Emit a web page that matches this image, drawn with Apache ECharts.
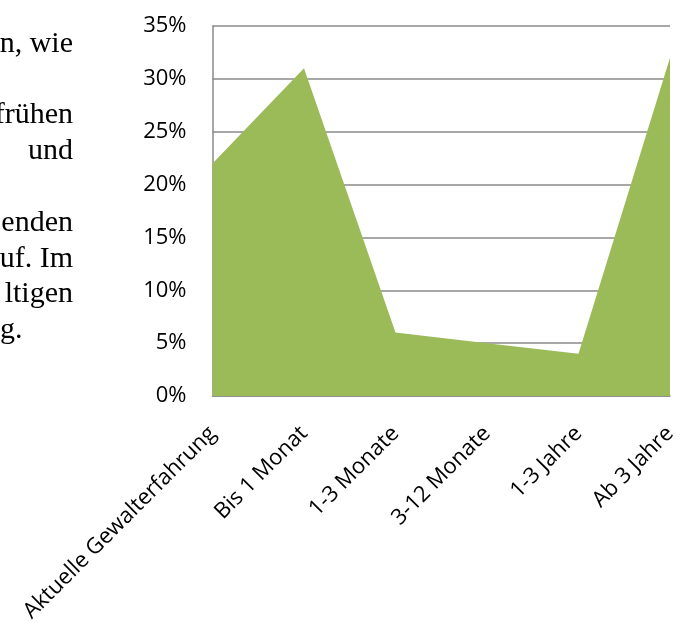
<!DOCTYPE html>
<html>
<head>
<meta charset="utf-8">
<script src="https://cdn.jsdelivr.net/npm/echarts@6/dist/echarts.min.js"></script>
<style>
  html, body { margin: 0; padding: 0; background: #fff; }
  #chart { width: 685px; height: 623px; }
</style>
</head>
<body>
<div id="chart"></div>
<script>
// Kategorien und Werte (Anteil in %)
const categories = ['Aktuelle Gewalterfahrung', 'Bis 1 Monat', '1-3 Monate', '3-12 Monate', '1-3 Jahre', 'Ab 3 Jahre'];
const values = [22, 31, 6, 5, 4, 32];
const yTicks = [0, 5, 10, 15, 20, 25, 30, 35];

// abgeschnittener Fließtext links neben dem Diagramm
const sideLines = ['n, wie', '', 'frühen', 'und', '', 'enden', 'uf. Im', 'ltigen', 'g.'];

let chartDom = document.getElementById('chart');
let myChart = echarts.init(chartDom);

let textEls = [];
sideLines.forEach((t, i) => {
  if (!t) return;
  let last = i === sideLines.length - 1;
  textEls.push({
    type: 'text',
    x: last ? 0 : 73,
    y: 44 + i * 35.8,
    style: {
      text: t,
      align: last ? 'left' : 'right',
      verticalAlign: 'middle',
      font: '30px "Liberation Serif", "Times New Roman", serif',
      fill: '#000'
    }
  });
});

let option = {
  backgroundColor: '#fff',
  animation: false,
  grid: { left: 212.5, right: 15, top: 26, bottom: 227, containLabel: false, outerBoundsMode: 'none' },
  xAxis: {
    type: 'category',
    data: categories,
    boundaryGap: false,
    axisLine: { lineStyle: { color: '#8a8a8a', width: 1.5 } },
    axisTick: { show: false },
    axisLabel: {
      interval: 0,
      rotate: 45,
      margin: 34,
      color: '#000',
      fontFamily: '"Open Sans", sans-serif',
      fontSize: 22
    },
    splitLine: { show: false }
  },
  yAxis: {
    type: 'value',
    min: yTicks[0],
    max: yTicks[yTicks.length - 1],
    interval: 5,
    axisLine: { show: true, lineStyle: { color: '#8a8a8a', width: 1.5 } },
    axisTick: { show: false },
    axisLabel: {
      margin: 26,
      color: '#000',
      fontFamily: '"Open Sans", sans-serif',
      fontSize: 22,
      padding: [8, 0, 0, 0],
      formatter: '{value}%'
    },
    splitLine: { show: true, lineStyle: { color: '#8a8a8a', width: 1.5 } }
  },
  graphic: textEls,
  series: [
    {
      type: 'line',
      data: values,
      symbol: 'none',
      lineStyle: { width: 0 },
      areaStyle: { color: '#9bbb59', opacity: 1 },
      z: 1
    }
  ]
};

option && myChart.setOption(option);
</script>
</body>
</html>
